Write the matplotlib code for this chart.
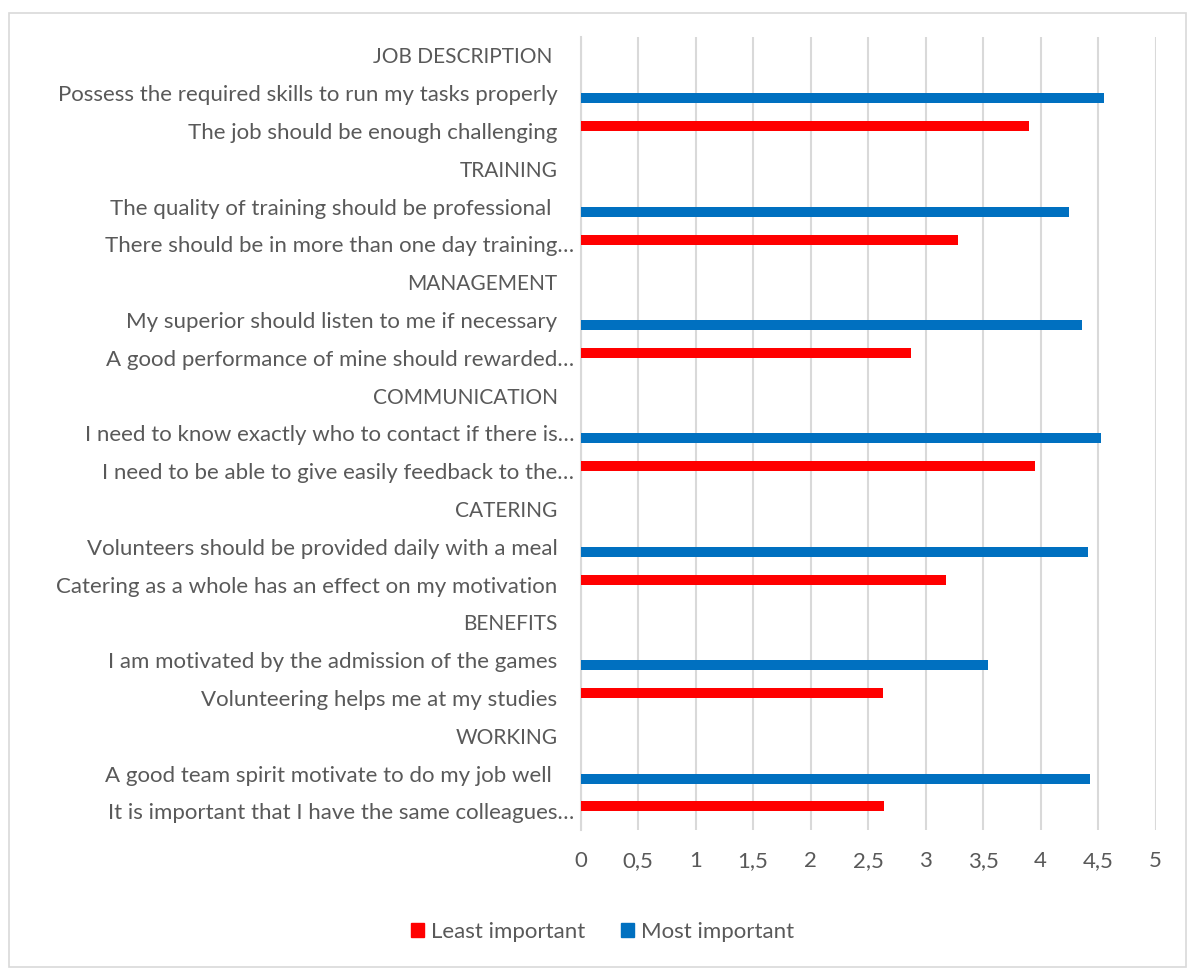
import matplotlib
matplotlib.use("Agg")
import matplotlib.pyplot as plt
from matplotlib.patches import Rectangle
import matplotlib.transforms as mtransforms

plt.rcParams['font.family'] = ['Lato', 'DejaVu Sans']

# categories from top to bottom
labels = [
    "JOB DESCRIPTION ",
    "Possess the required skills to run my tasks properly",
    "The job should be enough challenging",
    "TRAINING",
    "The quality of training should be professional ",
    "There should be in more than one day training…",
    "MANAGEMENT",
    "My superior should listen to me if necessary",
    "A good performance of mine should rewarded…",
    "COMMUNICATION",
    "I need to know exactly who to contact if there is…",
    "I need to be able to give easily feedback to the…",
    "CATERING",
    "Volunteers should be provided daily with a meal",
    "Catering as a whole has an effect on my motivation",
    "BENEFITS",
    "I am motivated by the admission of the games",
    "Volunteering helps me at my studies",
    "WORKING",
    "A good team spirit motivate to do my job well ",
    "It is important that I have the same colleagues…",
]
truncated = [lab.endswith("…") for lab in labels]
headers = [lab.strip().isupper() for lab in labels]

# None = no bar in that series
least = [None, None, 3.90, None, None, 3.28, None, None, 2.87, None, None, 3.95,
         None, None, 3.18, None, None, 2.63, None, None, 2.64]
most = [None, 4.55, None, None, 4.25, None, None, 4.36, None, None, 4.53, None,
        None, 4.41, None, None, 3.54, None, None, 4.43, None]

red = '#ff0000'
blue = '#0070c0'
txt = '#595959'
grid = '#d9d9d9'

fig = plt.figure(figsize=(11.88, 9.69), dpi=100)
ax = fig.add_axes([0.48864, 0.14314, 0.48401, 0.81899])

n = len(labels)
h = 0.265
off = 0.132
for i in range(n):
    if least[i] is not None:
        ax.barh(i - off, least[i], height=h, color=red, zorder=3)
    if most[i] is not None:
        ax.barh(i + off, most[i], height=h, color=blue, zorder=3)

ax.set_ylim(n - 0.5, -0.5)
ax.set_xlim(0, 5)
ax.set_xticks([0, 0.5, 1, 1.5, 2, 2.5, 3, 3.5, 4, 4.5, 5])
ax.set_xticklabels(['0', '0,5', '1', '1,5', '2', '2,5', '3', '3,5', '4', '4,5', '5'])
ax.set_yticks([])
ax.tick_params(axis='x', length=0, pad=15, labelsize=16, labelcolor=txt)
ax.grid(axis='x', color=grid, linewidth=1.5, zorder=0)
for s in ['top', 'right', 'bottom']:
    ax.spines[s].set_visible(False)
ax.spines['left'].set_color(grid)
ax.spines['left'].set_linewidth(1.5)

# category labels
trans = mtransforms.blended_transform_factory(ax.transAxes, ax.transData)
for i, lab in enumerate(labels):
    x = -0.0105 if truncated[i] else -0.040
    ax.text(x, i + 0.05, lab, transform=trans, ha='right', va='center',
            fontsize=15 if headers[i] else 16, color=txt)

# legend
hr = Rectangle((0, 0), 1, 1, color=red)
hb = Rectangle((0, 0), 1, 1, color=blue)
fig.legend([hr, hb], ['Least important', 'Most important'], loc='center',
           bbox_to_anchor=(0.507, 0.038), ncol=2, frameon=False, fontsize=16,
           labelcolor=txt, handlelength=0.6, handleheight=0.6, handletextpad=0.3,
           columnspacing=1.6)

# outer chart border
fig.patches.append(Rectangle((9 / 1188, 2 / 969), 1177 / 1188, 954 / 969,
                             transform=fig.transFigure, fill=False,
                             edgecolor=grid, linewidth=1.2))

fig.savefig('out.png', dpi=100)
